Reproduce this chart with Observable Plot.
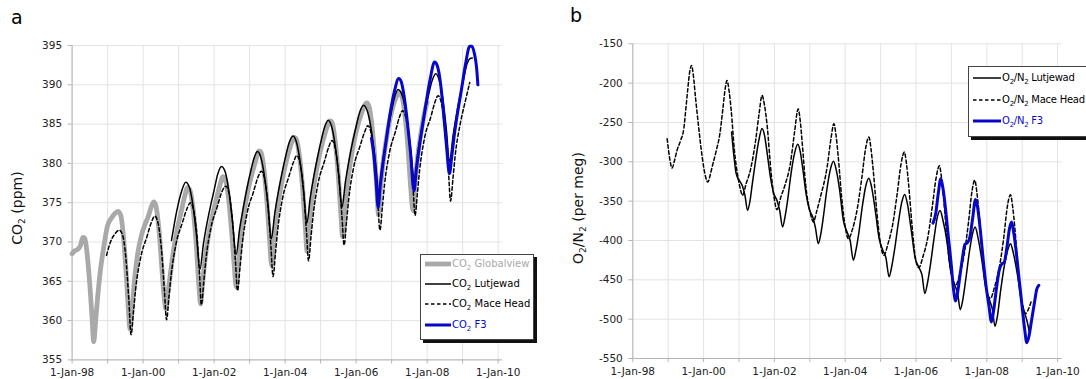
<!DOCTYPE html>
<html><head><meta charset="utf-8">
<script src="https://cdn.jsdelivr.net/npm/d3@7"></script>
<script src="https://cdn.jsdelivr.net/npm/@observablehq/plot@0.6"></script>
<style>
body{margin:0;background:#fff;font-family:"DejaVu Sans",sans-serif;}
#wrap{position:relative;width:1086px;height:379px;overflow:hidden;background:#fff;}
.pane{position:absolute;top:0;}
.lbl{position:absolute;font-size:19px;line-height:19px;color:#000;}
.ytitle{position:absolute;width:240px;height:18px;line-height:18px;text-align:center;font-size:14px;transform:rotate(-90deg);color:#111;white-space:nowrap;}
.ytitle sub{font-size:9px;vertical-align:-3px;}
.legend{position:absolute;background:#fff;border:1px solid #444;box-shadow:3px 3px 0 #111;}
.row{position:absolute;left:0;height:16px;font-size:10px;line-height:16px;white-space:nowrap;}
.row svg{position:absolute;top:0;}
.row span{position:absolute;top:0;}
#legb .row{letter-spacing:-0.25px;}
sub{font-size:7px;vertical-align:-3px;line-height:0;}
</style></head>
<body>
<div id="wrap">
  <div id="pa" class="pane" style="left:0"></div>
  <div id="pb" class="pane" style="left:540px"></div>
  <div class="lbl" style="left:11px;top:8px">a</div>
  <div class="lbl" style="left:570px;top:6px">b</div>
  <div class="ytitle" style="left:-103px;top:199px">CO<sub>2</sub> (ppm)</div>
  <div class="ytitle" style="left:458px;top:199px">O<sub>2</sub>/N<sub>2</sub> (per meg)</div>
  <div id="lega" class="legend" style="left:420px;top:254px;width:112px;height:84px"></div>
  <div id="legb" class="legend" style="left:968px;top:66px;width:130px;height:69px"></div>
</div>
<script>
// ---------- axis ticks ----------
const gridYears = [1998,1999,2000,2001,2002,2003,2004,2005,2006,2007,2008,2009,2010];
const xTickYears = [1998,2000,2002,2004,2006,2008,2010];
const xTickLabels = ["1-Jan-98","1-Jan-00","1-Jan-02","1-Jan-04","1-Jan-06","1-Jan-08","1-Jan-10"];
const co2Ticks = [355,360,365,370,375,380,385,390,395];
const o2Ticks = [-550,-500,-450,-400,-350,-300,-250,-200,-150];

// ---------- panel a: CO2 (ppm) ----------
const co2Globalview = [[1998.00,368.5],[1998.08,368.9],[1998.17,369.1],[1998.24,369.6],[1998.30,370.6],[1998.36,370.5],[1998.42,368.6],[1998.50,364.5],[1998.56,360.5],[1998.61,357.3],[1998.66,359.8],[1998.72,363.0],[1998.80,366.5],[1998.89,369.3],[1999.00,372.1],[1999.10,373.0],[1999.20,373.6],[1999.29,373.9],[1999.37,373.4],[1999.45,370.5],[1999.53,365.5],[1999.59,361.0],[1999.63,358.9],[1999.68,361.0],[1999.75,364.8],[1999.85,368.6],[1999.95,370.8],[2000.05,372.2],[2000.15,373.3],[2000.24,374.6],[2000.30,375.1],[2000.36,374.6],[2000.45,371.4],[2000.54,366.0],[2000.60,362.7],[2000.64,361.5],[2000.69,363.2],[2000.77,366.0],[2000.87,369.3],[2000.97,371.8],[2001.07,373.8],[2001.16,375.6],[2001.25,376.9],[2001.31,376.7],[2001.40,374.5],[2001.50,369.5],[2001.57,364.5],[2001.62,362.1],
[2001.67,364.5],[2001.74,367.6],[2001.84,370.8],[2001.95,373.3],[2002.05,375.2],[2002.15,377.0],[2002.25,378.3],[2002.31,378.0],[2002.40,375.8],[2002.49,371.5],[2002.57,366.8],[2002.62,364.3],
[2002.67,366.8],[2002.74,370.0],[2002.84,373.6],[2002.95,376.5],[2003.05,378.4],[2003.15,380.0],[2003.27,381.6],[2003.33,381.3],[2003.41,379.0],[2003.49,375.0],[2003.57,369.8],[2003.62,367.0],
[2003.67,369.5],[2003.74,372.6],[2003.84,375.9],[2003.95,378.6],[2004.05,380.6],[2004.15,382.2],[2004.26,383.3],[2004.32,383.0],[2004.41,380.7],[2004.49,377.0],[2004.57,371.8],[2004.62,368.8],
[2004.67,371.5],[2004.74,374.7],[2004.84,378.0],[2004.95,380.7],[2005.05,382.6],[2005.15,384.2],[2005.27,385.4],[2005.33,385.1],[2005.41,382.8],[2005.49,379.0],[2005.57,373.6],[2005.62,370.7],
[2005.67,373.5],[2005.74,376.8],[2005.84,380.2],[2005.95,383.0],[2006.05,384.9],[2006.17,386.6],[2006.30,387.7],[2006.36,387.3],[2006.44,385.0],[2006.52,381.0],[2006.59,376.3],[2006.63,373.5],
[2006.68,376.3],[2006.75,379.7],[2006.85,383.0],[2006.96,385.8],[2007.06,387.6],[2007.15,388.6],[2007.22,389.0],[2007.29,388.5],[2007.38,386.0],[2007.46,382.0],[2007.54,376.8],[2007.60,374.0],
[2007.65,376.8],[2007.72,380.3],[2007.82,383.7],[2007.92,386.3],[2008.00,387.8]];

const co2Lutjewad = [[2000.80,370.2],[2000.95,374.0],[2001.08,376.4],[2001.20,377.6],[2001.30,377.0],[2001.40,374.8],[2001.50,371.0],[2001.60,366.5],
[2001.70,369.8],[2001.80,372.4],[2001.90,374.6],[2002.00,376.6],[2002.10,378.6],[2002.21,379.6],[2002.32,378.8],[2002.42,376.3],[2002.52,372.5],[2002.62,368.4],
[2002.72,371.7],[2002.82,374.3],[2002.92,376.7],[2003.02,378.8],[2003.12,380.6],[2003.22,381.5],[2003.32,380.7],[2003.42,378.3],[2003.52,374.5],[2003.61,370.4],
[2003.71,373.7],[2003.81,376.4],[2003.91,378.7],[2004.01,380.8],[2004.11,382.6],[2004.22,383.5],[2004.32,382.7],[2004.42,380.3],[2004.52,376.5],[2004.61,372.4],
[2004.71,375.7],[2004.81,378.4],[2004.91,380.7],[2005.01,382.8],[2005.11,384.6],[2005.21,385.5],[2005.31,384.7],[2005.41,382.3],[2005.51,378.5],[2005.60,374.4],
[2005.70,377.7],[2005.80,380.4],[2005.90,382.7],[2006.00,384.7],[2006.10,386.5],[2006.21,387.4],[2006.32,386.6],[2006.43,384.2],[2006.54,380.4],[2006.64,376.3],
[2006.73,379.6],[2006.82,382.3],[2006.91,384.6],[2007.00,386.7],[2007.09,388.5],[2007.18,389.4],[2007.30,388.6],[2007.42,386.0],[2007.53,382.0],[2007.64,378.0],
[2007.74,381.4],[2007.84,384.2],[2007.94,386.6],[2008.04,388.7],[2008.14,390.5],[2008.24,391.4],[2008.34,390.6],[2008.44,388.3],[2008.54,384.4],[2008.63,380.2],
[2008.73,383.5],[2008.83,386.3],[2008.93,388.7],[2009.03,390.8],[2009.12,392.6],[2009.20,393.3],[2009.27,393.4]];

const co2MaceHead = [[1998.97,368.3],[1999.08,370.0],[1999.20,371.0],[1999.33,371.5],[1999.42,370.9],[1999.51,368.2],[1999.60,362.5],[1999.66,358.2],
[1999.73,361.2],[1999.79,364.0],[1999.93,368.0],[2000.11,370.7],[2000.24,372.6],[2000.33,373.3],[2000.42,372.4],[2000.51,369.4],[2000.60,363.8],[2000.66,360.1],
[2000.73,363.1],[2000.79,365.8],[2000.93,369.8],[2001.11,372.5],[2001.24,374.3],[2001.33,375.0],[2001.42,374.1],[2001.51,371.1],[2001.59,365.8],[2001.64,362.0],
[2001.71,365.0],[2001.77,367.8],[2001.91,371.8],[2002.09,374.5],[2002.22,376.4],[2002.33,377.1],[2002.42,376.2],[2002.51,373.1],[2002.60,367.6],[2002.66,363.8],
[2002.73,366.8],[2002.79,369.6],[2002.93,373.7],[2003.11,376.4],[2003.24,378.3],[2003.33,379.0],[2003.42,378.1],[2003.51,375.0],[2003.60,369.4],[2003.66,365.6],
[2003.73,368.7],[2003.79,371.5],[2003.93,375.6],[2004.11,378.4],[2004.24,380.2],[2004.33,381.0],[2004.42,380.1],[2004.51,377.0],[2004.60,371.4],[2004.66,367.6],
[2004.73,370.7],[2004.79,373.4],[2004.93,377.5],[2005.11,380.3],[2005.23,382.1],[2005.32,382.9],[2005.41,382.0],[2005.50,378.9],[2005.60,373.3],[2005.66,369.6],
[2005.73,372.6],[2005.79,375.4],[2005.93,379.5],[2006.11,382.2],[2006.24,384.0],[2006.33,384.8],[2006.42,383.9],[2006.51,380.8],[2006.61,375.2],[2006.67,371.5],
[2006.74,374.5],[2006.80,377.3],[2006.94,381.4],[2007.11,384.1],[2007.22,385.9],[2007.31,386.7],[2007.40,385.8],[2007.50,382.7],[2007.60,377.1],[2007.66,373.4],
[2007.73,376.4],[2007.79,379.2],[2007.93,383.3],[2008.11,386.0],[2008.22,387.8],[2008.31,388.6],[2008.40,387.7],[2008.49,384.6],[2008.60,379.0],[2008.66,375.2],
[2008.73,378.2],[2008.79,381.0],[2008.93,385.0],[2009.08,388.0],[2009.20,390.3]];

const co2F3 = [[2006.43,383.2],[2006.50,381.0],[2006.56,377.8],[2006.62,374.4],[2006.68,377.2],[2006.78,380.8],[2006.88,384.0],[2006.97,386.7],[2007.08,389.2],[2007.20,390.8],[2007.27,390.4],[2007.35,388.6],[2007.45,385.0],[2007.53,381.5],[2007.63,376.5],
[2007.69,379.0],[2007.77,381.8],[2007.87,384.8],[2007.96,387.4],[2008.08,390.6],[2008.21,392.9],[2008.28,392.5],[2008.38,390.1],[2008.46,386.5],[2008.54,382.5],[2008.63,378.7],
[2008.69,380.7],[2008.76,383.4],[2008.86,386.5],[2008.96,389.2],[2009.08,392.6],[2009.20,394.9],[2009.26,394.9],[2009.33,394.0],[2009.39,392.3],[2009.43,390.0]];

// ---------- panel b: O2/N2 (per meg) ----------
const o2Lutjewad = [[2000.79,-262],[2000.85,-290],[2000.92,-315],[2001.00,-323],[2001.10,-331],[2001.17,-343],[2001.24,-361.6],[2001.31,-350],[2001.37,-330],[2001.47,-298],[2001.56,-272.8],[2001.65,-257.5],
[2001.72,-266],[2001.79,-287],[2001.89,-320],[2001.98,-340],[2002.08,-350],[2002.15,-362],[2002.23,-382.8],[2002.30,-370],[2002.37,-350],[2002.47,-315],[2002.57,-289],[2002.66,-277.8],
[2002.73,-287],[2002.80,-308],[2002.90,-342],[2002.99,-361],[2003.09,-371],[2003.16,-384],[2003.24,-404],[2003.31,-392],[2003.38,-371],[2003.48,-336],[2003.58,-310],[2003.67,-299.4],
[2003.74,-309],[2003.84,-335],[2003.95,-375],[2004.05,-389],[2004.14,-400],[2004.23,-425.1],[2004.30,-413],[2004.38,-392],[2004.48,-358],[2004.58,-331],[2004.67,-321],
[2004.74,-331],[2004.85,-362],[2004.96,-398],[2005.06,-412],[2005.15,-422],[2005.24,-446],[2005.31,-434],[2005.40,-410],[2005.50,-378],[2005.60,-351],[2005.68,-341.4],
[2005.76,-354],[2005.86,-385],[2005.98,-423],[2006.08,-434],[2006.17,-444],[2006.25,-467.5],[2006.32,-455],[2006.41,-430],[2006.51,-397],[2006.60,-371],[2006.68,-362],
[2006.76,-374],[2006.87,-400],[2006.98,-439],[2007.09,-456],[2007.18,-468],[2007.25,-488],[2007.32,-476],[2007.41,-448],[2007.51,-414],[2007.60,-391],[2007.67,-383],
[2007.75,-396],[2007.86,-425],[2007.97,-460],[2008.08,-476],[2008.16,-488],[2008.23,-509],[2008.30,-496],[2008.39,-464],[2008.50,-431],[2008.60,-411],[2008.67,-404],
[2008.75,-416],[2008.86,-442],[2008.97,-475],[2009.07,-492],[2009.14,-503],[2009.20,-516]];

const o2MaceHead = [[1998.97,-270.6],[1999.04,-295],[1999.11,-308],[1999.18,-298],[1999.25,-285.4],[1999.35,-272.8],[1999.44,-258],[1999.50,-232],[1999.55,-209],[1999.61,-185],[1999.66,-177.5],
[1999.71,-190],[1999.77,-217.7],[1999.86,-255.8],[1999.96,-293.9],[2000.05,-318],[2000.12,-325.7],[2000.18,-318],[2000.24,-306.6],[2000.36,-285.4],[2000.46,-264.3],[2000.55,-230.4],[2000.61,-207],[2000.66,-196.6],
[2000.72,-210],[2000.78,-234.7],[2000.87,-285.4],[2000.97,-319.3],[2001.04,-335],[2001.10,-342.6],[2001.20,-328],[2001.32,-310.8],[2001.47,-272.8],[2001.57,-238],[2001.65,-215.6],
[2001.72,-228],[2001.79,-251.6],[2001.91,-315.1],[2001.99,-345],[2002.07,-360.8],[2002.18,-345],[2002.31,-328],[2002.45,-302.6],[2002.57,-262],[2002.67,-232.8],
[2002.73,-248],[2002.78,-272.8],[2002.88,-327.8],[2003.02,-366],[2003.10,-376.4],[2003.20,-362],[2003.30,-344.7],[2003.49,-306.6],[2003.60,-270],[2003.68,-251.6],
[2003.74,-266],[2003.80,-292],[2003.90,-345],[2004.01,-385],[2004.09,-397.7],[2004.21,-385],[2004.34,-360],[2004.47,-320],[2004.58,-282],[2004.67,-268.5],
[2004.73,-284],[2004.79,-310],[2004.89,-362],[2005.00,-405],[2005.09,-418.8],[2005.21,-404],[2005.34,-380],[2005.47,-340],[2005.58,-302],[2005.67,-287.6],
[2005.73,-302],[2005.79,-328],[2005.89,-382],[2005.99,-424],[2006.08,-434.5],[2006.20,-420],[2006.33,-397],[2006.46,-357],[2006.57,-320],[2006.66,-305],
[2006.72,-320],[2006.78,-346],[2006.88,-400],[2007.00,-443],[2007.12,-456.9],[2007.24,-442],[2007.36,-418],[2007.48,-378],[2007.58,-338],[2007.66,-323.5],
[2007.72,-339],[2007.78,-365],[2007.88,-420],[2007.99,-461],[2008.10,-473.8],[2008.22,-459],[2008.35,-435],[2008.48,-396],[2008.58,-357],[2008.67,-342],
[2008.73,-357],[2008.79,-383],[2008.89,-440],[2009.00,-480],[2009.10,-492.9],[2009.17,-488],[2009.25,-478]];

const o2F3 = [[2006.48,-378],[2006.56,-365],[2006.63,-340],[2006.70,-321.5],[2006.76,-333],[2006.84,-362],[2006.92,-398],[2006.99,-428],[2007.06,-462],[2007.12,-477],
[2007.18,-465],[2007.25,-442],[2007.32,-420],[2007.38,-405],[2007.45,-403],[2007.52,-396],[2007.60,-372],[2007.68,-348],[2007.74,-358],[2007.82,-388],[2007.90,-425],[2007.98,-458],[2008.06,-483],[2008.13,-503.5],
[2008.19,-490],[2008.27,-462],[2008.35,-438],[2008.42,-430],[2008.49,-428],[2008.57,-408],[2008.64,-385],[2008.70,-376.5],[2008.76,-390],[2008.84,-418],[2008.92,-452],[2009.00,-485],[2009.07,-513],[2009.13,-530],
[2009.19,-522],[2009.27,-500],[2009.35,-478],[2009.41,-462],[2009.47,-457]];

// ---------- styles ----------
const BLUE = "#0707c9", GRAY = "#a9a9a9";
const sGlobal = {stroke: GRAY, strokeWidth: 4.8};
const sLut = {stroke: "#000", strokeWidth: 1.5};
const sMace = {stroke: "#000", strokeWidth: 1.5, strokeDasharray: "3.5,2.5"};
const sF3 = {stroke: BLUE, strokeWidth: 3};

const xfmt = d => { const i = xTickYears.indexOf(d); return i >= 0 ? xTickLabels[i] : ""; };

function panel({series, xDomain, yDomain, yTicks, width, mL, mR, mT, mB}) {
  const ax = "#b4b4b4", gr = "#e3e3e3";
  return Plot.plot({
    width, height: 379, marginLeft: mL, marginRight: mR, marginTop: mT, marginBottom: mB,
    style: {fontFamily: '"DejaVu Sans", sans-serif', fontSize: "10.5px", color: "#222", background: "transparent", overflow: "visible"},
    x: {domain: xDomain}, y: {domain: yDomain},
    marks: [
      Plot.gridX(gridYears, {stroke: gr, strokeOpacity: 1}),
      Plot.gridY(yTicks, {stroke: gr, strokeOpacity: 1}),
      Plot.ruleX([xDomain[0]], {stroke: ax}),
      Plot.ruleY([yDomain[0]], {stroke: ax}),
      Plot.axisX(gridYears, {tickSize: 4, tickPadding: 5, stroke: ax, strokeOpacity: 1, tickFormat: xfmt, label: null}),
      Plot.axisY(yTicks, {tickSize: 4, tickPadding: 6, stroke: ax, strokeOpacity: 1, tickFormat: d => String(d), label: null}),
      ...series.map(([data, st]) => Plot.line(data, {x: d => d[0], y: d => d[1], ...st, curve: "monotone-x", strokeLinejoin: "round"}))
    ]
  });
}

document.getElementById("pa").append(panel({
  series: [[co2Globalview, sGlobal], [co2MaceHead, sMace], [co2Lutjewad, sLut], [co2F3, sF3]],
  xDomain: [1998, 2010.12], yDomain: [355, 395], yTicks: co2Ticks,
  width: 540, mL: 71.6, mR: 38.1, mT: 45, mB: 19.6
}));
document.getElementById("pb").append(panel({
  series: [[o2MaceHead, sMace], [o2Lutjewad, sLut], [o2F3, sF3]],
  xDomain: [1998, 2010.13], yDomain: [-550, -150], yTicks: o2Ticks,
  width: 546, mL: 92.3, mR: 24.3, mT: 43.3, mB: 21
}));

// ---------- legends ----------
const legendA = [["CO", null, " Globalview", sGlobal, GRAY], ["CO", null, " Lutjewad", sLut, "#000"], ["CO", null, " Mace Head", sMace, "#000"], ["CO", null, " F3", sF3, BLUE]];
const legendB = [["O", "N", " Lutjewad", sLut, "#000"], ["O", "N", " Mace Head", sMace, "#000"], ["O", "N", " F3", sF3, BLUE]];
function buildLegend(el, items, rowTops, x0, x1, tx) {
  items.forEach(([a, b, rest, st, col], i) => {
    const row = document.createElement("div");
    row.className = "row"; row.style.top = rowTops[i] + "px"; row.style.width = "200px";
    const svg = d3.create("svg").attr("width", x1 + 2).attr("height", 16).style("left", "0px");
    svg.append("line").attr("x1", x0).attr("x2", x1).attr("y1", 8).attr("y2", 8)
      .attr("stroke", st.stroke).attr("stroke-width", st.strokeWidth).attr("stroke-dasharray", st.strokeDasharray || null);
    row.append(svg.node());
    const sp = document.createElement("span");
    sp.style.left = tx + "px"; sp.style.color = col;
    sp.innerHTML = a + "<sub>2</sub>" + (b ? "/" + b + "<sub>2</sub>" : "") + rest;
    row.append(sp);
    el.append(row);
  });
}
buildLegend(document.getElementById("lega"), legendA, [1, 21, 41, 62], 4, 30, 31);
buildLegend(document.getElementById("legb"), legendB, [3, 25, 46], 4, 32, 33);
</script>
</body></html>
